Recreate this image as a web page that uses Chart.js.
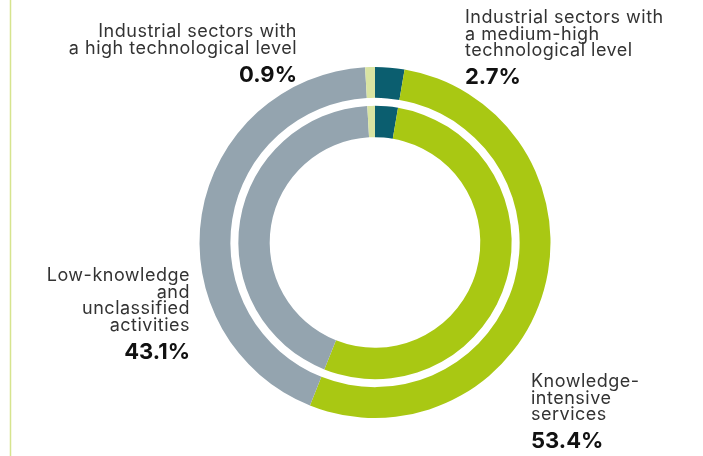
<!DOCTYPE html>
<html>
<head>
<meta charset="utf-8">
<script src="https://cdn.jsdelivr.net/npm/chart.js@4/dist/chart.umd.min.js"></script>
<style>
  html, body { margin: 0; padding: 0; background: #fff; }
  #wrap { width: 703px; height: 456px; }
</style>
</head>
<body>
<div id="wrap"><canvas id="chart" width="703" height="456"></canvas></div>
<script>
/* ---------- data ---------- */
const sectors = [
  ['Industrial sectors with', 'a medium-high', 'technological level'],
  ['Knowledge-', 'intensive', 'services'],
  ['Low-knowledge', 'and', 'unclassified', 'activities'],
  ['Industrial sectors with', 'a high technological level']
];
const shares = [2.7, 53.4, 43.1, 0.9];
const colours = ['#0b5e6f', '#a9c813', '#94a4af', '#d9e4a2'];

// where each label block sits: x, first baseline, alignment
const labelPos = [
  { x: 465, y: 23, align: 'left' },
  { x: 531, y: 387, align: 'left' },
  { x: 190, y: 281, align: 'right' },
  { x: 297, y: 37, align: 'right' }
];

/* ---------- labels + side rule ---------- */
const labelPlugin = {
  id: 'sectorLabels',
  beforeDraw(chart) {
    const c = chart.ctx;
    c.save();
    c.strokeStyle = '#d6e48e';
    c.lineWidth = 1.5;
    c.beginPath();
    c.moveTo(10.5, 0);
    c.lineTo(10.5, chart.height);
    c.stroke();
    c.restore();
  },
  afterDraw(chart) {
    const c = chart.ctx;
    c.save();
    c.textBaseline = 'alphabetic';
    sectors.forEach((lines, i) => {
      const p = labelPos[i];
      c.textAlign = p.align;
      c.fillStyle = '#333333';
      c.font = '18px Inter';
      c.letterSpacing = '0.5px';
      let y = p.y;
      lines.forEach((t, k) => {
        c.fillText(t, p.x, y);
        if (k < lines.length - 1) y += 16.7;
      });
      c.fillStyle = '#111111';
      c.font = 'bold 22px Inter';
      c.letterSpacing = '0px';
      c.fillText(shares[i].toFixed(1) + '%', p.x, y + 28);
    });
    c.restore();
  }
};

/* ---------- chart ---------- */
const ctx = document.getElementById('chart').getContext('2d');

const config = {
  type: 'doughnut',
  data: {
    labels: sectors.map(l => l.join(' ')),
    datasets: [
      { data: shares, backgroundColor: colours, weight: 31 },
      { data: [1], backgroundColor: ['rgba(0,0,0,0)'], weight: 8 },
      { data: shares, backgroundColor: colours, weight: 31.5 }
    ]
  },
  options: {
    responsive: false,
    animation: false,
    events: [],
    cutout: '60%',
    borderWidth: 0,
    hoverOffset: 0,
    layout: { padding: { left: 199, right: 152, top: 67, bottom: 38 } },
    plugins: {
      legend: { display: false },
      tooltip: { enabled: false }
    }
  },
  plugins: [labelPlugin]
};

const myChart = new Chart(ctx, config);
</script>
</body>
</html>
